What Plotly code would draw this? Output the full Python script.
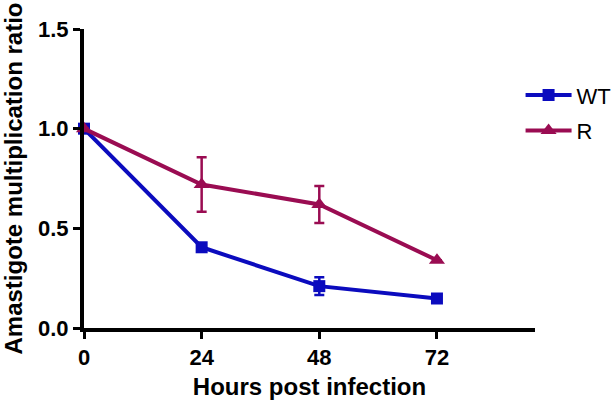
import plotly.graph_objects as go

# Data
hours = [0, 24, 48, 72]

wt_ratio = [1.0, 0.405, 0.21, 0.148]
wt_err = [0.0, 0.012, 0.045, 0.01]

r_ratio = [1.0, 0.72, 0.62, 0.34]
r_err = [0.0, 0.137, 0.093, 0.0]

WT_COLOR = "#0B0BBE"
R_COLOR = "#9A0C52"

fig = go.Figure()

fig.add_trace(go.Scatter(
    x=hours, y=wt_ratio, name="WT", mode="lines+markers", legendgroup="wt",
    line=dict(color=WT_COLOR, width=4),
    marker=dict(symbol="square", size=12, color=WT_COLOR),
    error_y=dict(type="data", array=wt_err, visible=True,
                 color=WT_COLOR, thickness=2.5, width=5),
    cliponaxis=False,
))

fig.add_trace(go.Scatter(
    x=hours, y=r_ratio, name="R", mode="lines+markers", legendgroup="r",
    line=dict(color=R_COLOR, width=4),
    marker=dict(symbol="triangle-up", size=14, color=R_COLOR),
    error_y=dict(type="data", array=r_err, visible=True,
                 color=R_COLOR, thickness=2.5, width=5),
    cliponaxis=False,
))

tickfont = dict(family="Arial", size=22, color="black", weight="bold")
titlefont = dict(family="Arial", size=24, color="black", weight="bold")

fig.update_layout(
    width=615, height=402,
    margin=dict(l=84, r=80, t=29, b=74, autoexpand=False),
    plot_bgcolor="white", paper_bgcolor="white",
    showlegend=True,
    legend=dict(x=0.968, y=0.849, xanchor="left", yanchor="top",
                font=dict(family="Arial", size=22, color="black"),
                bgcolor="rgba(0,0,0,0)", itemwidth=46, tracegroupgap=4),
    xaxis=dict(
        range=[0, 92], tickvals=hours, ticktext=[str(h) for h in hours],
        showgrid=False, zeroline=False, automargin=False,
        showline=True, linecolor="black", linewidth=4,
        ticks="outside", ticklen=7, tickwidth=3, tickcolor="black",
        tickfont=tickfont,
        title=dict(text="Hours post infection", font=titlefont, standoff=10),
    ),
    yaxis=dict(
        range=[0, 1.5], tickvals=[0, 0.5, 1.0, 1.5],
        ticktext=["0.0", "0.5", "1.0", "1.5"],
        showgrid=False, zeroline=False, automargin=False,
        showline=True, linecolor="black", linewidth=4,
        ticks="outside", ticklen=7, tickwidth=3, tickcolor="black",
        tickfont=tickfont,
        title=dict(text="Amastigote multiplication ratio", font=titlefont,
                   standoff=18),
    ),
)

# drop the default page margin so the figure sits at the top-left corner
fig.write_html("out.html", config={"displayModeBar": False},
               post_script="document.body.style.margin='0';")
